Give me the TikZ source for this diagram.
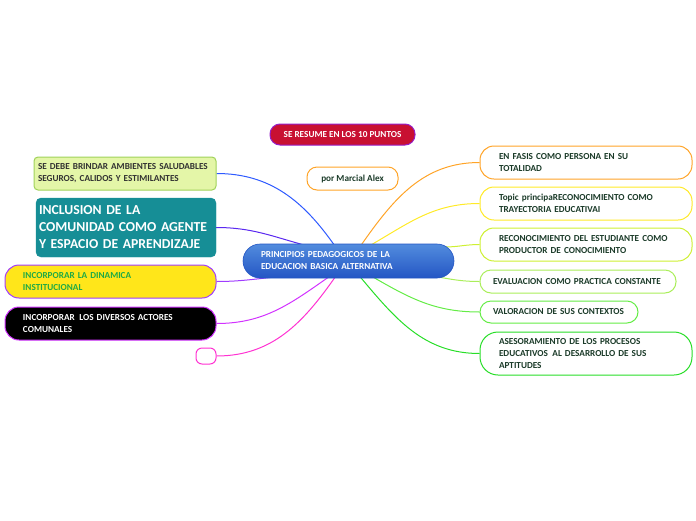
\documentclass[tikz,border=0pt]{standalone}
\usepackage{fontspec}
\setmainfont{Carlito}
\usetikzlibrary{positioning,backgrounds}
\definecolor{mainblue}{RGB}{36,86,196}
\definecolor{mainlight}{RGB}{82,140,222}
\definecolor{crimsonfill}{RGB}{200,16,50}
\definecolor{crimsonedge}{RGB}{150,30,200}
\definecolor{orangeline}{RGB}{255,164,40}
\definecolor{yellowline}{RGB}{255,234,40}
\definecolor{limeline}{RGB}{206,240,50}
\definecolor{paleline}{RGB}{170,238,90}
\definecolor{midgreen}{RGB}{100,236,70}
\definecolor{deepgreen}{RGB}{40,222,40}
\definecolor{bluelink}{RGB}{46,90,255}
\definecolor{violetlink}{RGB}{90,40,240}
\definecolor{purplelink}{RGB}{160,60,255}
\definecolor{orchidlink}{RGB}{210,50,255}
\definecolor{magentalink}{RGB}{255,50,210}
\definecolor{leafpale}{RGB}{228,246,168}
\definecolor{leafedge}{RGB}{160,210,90}
\definecolor{tealfill}{RGB}{22,142,150}
\definecolor{sunfill}{RGB}{255,230,26}
\definecolor{grasstext}{RGB}{30,170,70}
\definecolor{pinetext}{RGB}{26,58,40}
\definecolor{greytext}{RGB}{50,50,50}

\begin{document}
\begin{tikzpicture}[x=1pt,y=-1pt,every node/.style={align=left,font=\bfseries\fontsize{9.2}{12}\selectfont},
    topic/.style={draw,line width=1pt,rounded corners=14pt,fill=white,text=pinetext,minimum height=33},
    link/.style={line width=1pt}]
  \useasboundingbox (0,0) rectangle (696,520);
  % centre
  \node[rounded corners=17pt,top color=mainlight,bottom color=mainblue,draw=mainblue,line width=0.6pt,text=white,
    minimum width=211,minimum height=34,text width=175,inner xsep=18] (main) at (348.5,261)
    {PRINCIPIOS PEDAGOGICOS DE LA\\EDUCACION BASICA ALTERNATIVA};
  \node[rounded corners=10pt,fill=crimsonfill,draw=crimsonedge,line width=1pt,text=white,align=center,
    minimum width=145,minimum height=21] (resume) at (342.5,134.5) {SE RESUME EN LOS 10 PUNTOS};
  \node[rounded corners=10pt,draw=orangeline,line width=1pt,text=pinetext,align=center,
    minimum width=91,minimum height=23] (autor) at (352.5,178.5) {por Marcial Alex};
  % left side
  \node[rounded corners=4pt,fill=leafpale,draw=leafedge,line width=1pt,text=greytext,
    minimum width=182,minimum height=33,text width=174,inner xsep=4] (ambientes) at (125,173.5)
    {SE DEBE BRINDAR AMBIENTES SALUDABLES\\SEGUROS, CALIDOS Y ESTIMILANTES};
  \node[rounded corners=5pt,fill=tealfill,draw=tealfill,text=white,font=\bfseries\fontsize{13.7}{17}\selectfont,
    minimum width=180,minimum height=59,text width=174,inner xsep=3] (inclusion) at (126,227.5)
    {INCLUSION DE LA\\COMUNIDAD COMO AGENTE\\Y ESPACIO DE APRENDIZAJE};
  \node[rounded corners=14pt,fill=sunfill,draw=purplelink,line width=1pt,text=grasstext,
    minimum width=211,minimum height=33,text width=175,inner xsep=18] (dinamica) at (110.5,281.5)
    {INCORPORAR LA DINAMICA\\INSTITUCIONAL};
  \node[rounded corners=14pt,fill=black,draw=orchidlink,line width=1pt,text=white,
    minimum width=211,minimum height=33,text width=175,inner xsep=18] (actores) at (110.5,323.5)
    {INCORPORAR\, LOS DIVERSOS ACTORES\\COMUNALES};
  \node[rounded corners=6pt,draw=magentalink,line width=1pt,fill=white,
    minimum width=20,minimum height=16,inner sep=0] (vacio) at (206,356) {};
  % right side
  \node[topic,draw=orangeline,minimum width=212,text width=174,inner xsep=19] (persona) at (586,162.5)
    {EN FASIS COMO PERSONA EN SU\\TOTALIDAD};
  \node[topic,draw=yellowline,minimum width=212,text width=174,inner xsep=19] (trayectoria) at (586,203.5)
    {Topic principaRECONOCIMIENTO COMO\\TRAYECTORIA EDUCATIVAI};
  \node[topic,draw=limeline,minimum width=212,text width=174,inner xsep=19] (productor) at (586,244.5)
    {RECONOCIMIENTO DEL ESTUDIANTE COMO\\PRODUCTOR DE CONOCIMIENTO};
  \node[topic,draw=paleline,rounded corners=11pt,minimum width=196,minimum height=23,text width=170,inner xsep=13] (evaluacion) at (578,281.5)
    {EVALUACION COMO PRACTICA CONSTANTE};
  \node[topic,draw=midgreen,rounded corners=11pt,minimum width=158,minimum height=22,text width=132,inner xsep=13] (contextos) at (559,312)
    {VALORACION DE SUS CONTEXTOS};
  \node[topic,draw=deepgreen,rounded corners=18pt,minimum width=212,minimum height=43,text width=174,inner xsep=19] (aptitudes) at (586,353.5)
    {ASESORAMIENTO DE LOS PROCESOS\\EDUCATIVOS\, AL DESARROLLO DE SUS\\APTITUDES};
  % connectors
  \begin{scope}[on background layer]
    \draw[link,bluelink] (ambientes.east) to[out=0,in=125] ([xshift=92pt,yshift=-2pt]main.north west);
    \draw[link,violetlink] (inclusion.east) to[out=0,in=165] ([xshift=64pt,yshift=-2pt]main.north west);
    \draw[link,purplelink] (dinamica.east) to[out=0,in=185] ([xshift=40pt,yshift=2pt]main.south west);
    \draw[link,orchidlink] (actores.east) to[out=0,in=215] ([xshift=87pt,yshift=2pt]main.south west);
    \draw[link,magentalink] (vacio.east) to[out=0,in=235] ([xshift=93pt,yshift=2pt]main.south west);
    \draw[link,orangeline] (persona.west) to[out=180,in=55] ([xshift=118pt,yshift=-2pt]main.north west);
    \draw[link,yellowline] (trayectoria.west) to[out=180,in=30] ([xshift=127pt,yshift=-2pt]main.north west);
    \draw[link,limeline] (productor.west) to[out=180,in=0] ([xshift=-10pt,yshift=14pt]main.east);
    \draw[link,paleline] (evaluacion.west) to[out=180,in=-10] ([xshift=-20pt,yshift=2pt]main.south east);
    \draw[link,midgreen] (contextos.west) to[out=180,in=-30] ([xshift=129pt,yshift=2pt]main.south west);
    \draw[link,deepgreen] (aptitudes.west) to[out=180,in=-50] ([xshift=117pt,yshift=2pt]main.south west);
  \end{scope}
\end{tikzpicture}
\end{document}
